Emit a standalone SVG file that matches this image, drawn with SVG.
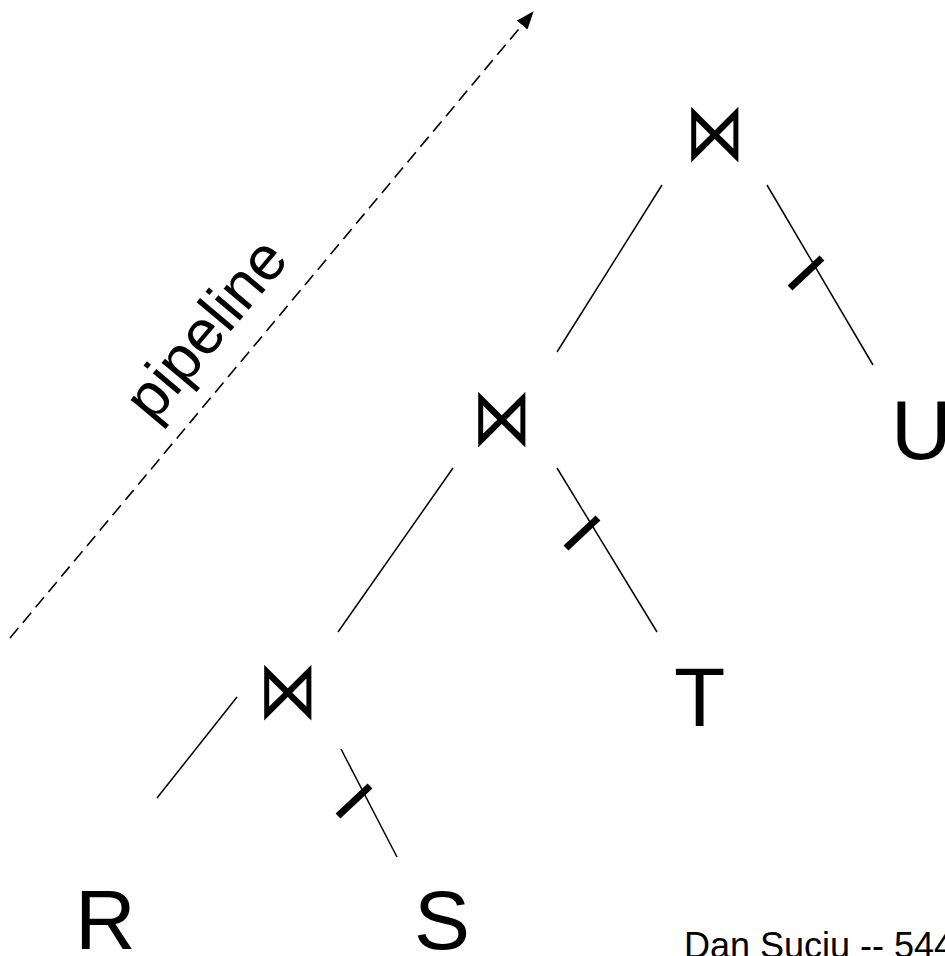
<svg xmlns="http://www.w3.org/2000/svg" width="945" height="956" viewBox="0 0 945 956">
  <style>
    .edge { stroke: #000; stroke-width: 1.5; fill: none; }
    .tick { stroke: #000; stroke-width: 7; stroke-linecap: butt; }
    .join { font-family: "DejaVu Sans", sans-serif; font-size: 60px; text-anchor: middle; fill: #000; }
    .rel { font-family: "Liberation Sans", Arial, sans-serif; font-size: 84px; fill: #000; }
    .label { font-family: "Liberation Sans", Arial, sans-serif; fill: #000; }
  </style>
  <defs>
    <marker id="arrowhead" viewBox="0 0 18 14" refX="17" refY="7" markerWidth="18" markerHeight="14" markerUnits="userSpaceOnUse" orient="auto">
      <path d="M0,0 L18,7 L0,14 z" fill="#000"/>
    </marker>
  </defs>

  <rect width="945" height="956" fill="#fff"/>

  <!-- connectors: tree edges and blocking ticks -->
  <g id="connectors">
    <line class="edge" x1="662" y1="185" x2="557" y2="352"/>
    <line class="edge" x1="767" y1="185" x2="873" y2="365"/>
    <line class="tick" x1="790" y1="288" x2="822" y2="258"/>

    <line class="edge" x1="453" y1="468" x2="338" y2="632"/>
    <line class="edge" x1="557" y1="468" x2="657" y2="632"/>
    <line class="tick" x1="566" y1="548" x2="598" y2="518"/>

    <line class="edge" x1="237" y1="697" x2="157" y2="798"/>
    <line class="edge" x1="341" y1="749" x2="397" y2="857"/>
    <line class="tick" x1="338" y1="816" x2="370" y2="786"/>

    <!-- pipeline direction -->
    <line x1="10" y1="638" x2="533" y2="12" stroke="#000" stroke-width="1.6" stroke-dasharray="13,7" marker-end="url(#arrowhead)"/>
  </g>

  <!-- join operators, stretched vertically -->
  <g id="join-top"><text class="join" transform="scale(1,1.35)" x="715" y="118.5">⋈</text></g>
  <g id="join-mid"><text class="join" transform="scale(1,1.35)" x="502" y="329.6">⋈</text></g>
  <g id="join-bottom"><text class="join" transform="scale(1,1.35)" x="288" y="531.9">⋈</text></g>

  <g id="rel-R"><text class="rel" x="75" y="949">R</text></g>
  <g id="rel-S"><text class="rel" x="414" y="949">S</text></g>
  <g id="rel-T"><text class="rel" x="674" y="726">T</text></g>
  <g id="rel-U"><text class="rel" x="891" y="459">U</text></g>

  <g id="pipeline-label">
    <text class="label" font-size="62" transform="translate(153,424) rotate(-50)">pipeline</text>
  </g>

  <g id="footer">
    <text class="label" font-size="36" x="684" y="958">Dan Suciu -- 544</text>
  </g>
</svg>
